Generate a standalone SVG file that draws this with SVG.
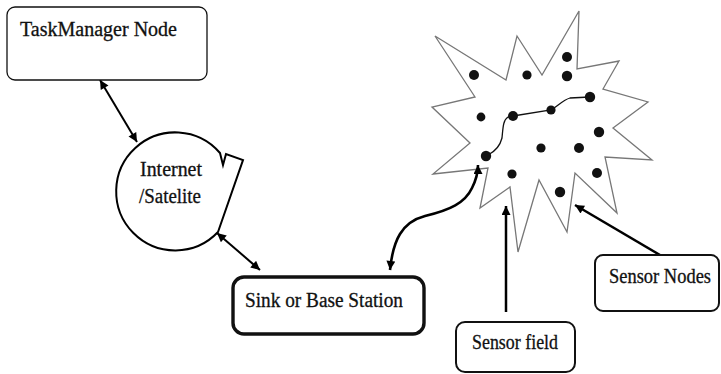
<svg xmlns="http://www.w3.org/2000/svg" width="721" height="374" viewBox="0 0 721 374">
<style>
  .lbl { font-family: 'Liberation Serif', 'Times New Roman', serif; font-size: 20px; fill: #111; stroke: #111; stroke-width: 0.3px; }
  .box { fill: #fff; stroke: #111; }
  .conn { fill: none; stroke: #000; }
  .dot { fill: #111; }
</style>
<defs>
  <marker id="ah" viewBox="0 0 10 10" refX="10" refY="5" markerWidth="11" markerHeight="9" markerUnits="userSpaceOnUse" orient="auto-start-reverse">
    <path d="M0,0 L10,5 L0,10 z" fill="#000"/>
  </marker>
</defs>
<rect width="721" height="374" fill="#fff"/>

<g id="sensor-field-shape">
  <polygon points="518,252 539,180 567,232 575,173 617,213 605,157 652,160 613,128 648,102 603,89 619,61 577,69 579,11 542,75 517,36 506,80 435,36 475,97 432,107 470,143 433,174 488,168 480,208 510,187" fill="#fff" stroke="#777" stroke-width="1.3" stroke-linejoin="miter"/>
  <path d="M488,155 C494,152 500,146 502,138 C503,128 503,120 508,117 L513,116 L551,110 C558,106 563,100 570,98 L590,97" fill="none" stroke="#111" stroke-width="1.3"/>
  <circle class="dot" cx="474" cy="75" r="5"/>
  <circle class="dot" cx="527" cy="75" r="4.6"/>
  <circle class="dot" cx="567" cy="57" r="5"/>
  <circle class="dot" cx="567" cy="76" r="5.2"/>
  <circle class="dot" cx="590" cy="97" r="5.2"/>
  <circle class="dot" cx="551" cy="110" r="4.6"/>
  <circle class="dot" cx="513" cy="116" r="5"/>
  <circle class="dot" cx="481" cy="117" r="4.4"/>
  <circle class="dot" cx="599" cy="132" r="5.2"/>
  <circle class="dot" cx="541" cy="148" r="4.6"/>
  <circle class="dot" cx="579" cy="148" r="5"/>
  <circle class="dot" cx="486" cy="156" r="5.2"/>
  <circle class="dot" cx="512" cy="174" r="4.6"/>
  <circle class="dot" cx="597" cy="173" r="5"/>
  <circle class="dot" cx="560" cy="192" r="5.2"/>
</g>

<g id="connectors">
  <line class="conn" x1="100" y1="80" x2="137" y2="142" stroke-width="2" marker-start="url(#ah)" marker-end="url(#ah)"/>
  <line class="conn" x1="217" y1="233" x2="260" y2="270" stroke-width="2" marker-start="url(#ah)" marker-end="url(#ah)"/>
  <path class="conn" d="M390,270 C393,240 402,222 425,216 C450,210 465,203 472,188 C476,180 478,172 478,165" stroke-width="2.6" marker-start="url(#ah)" marker-end="url(#ah)"/>
  <line class="conn" x1="506" y1="312" x2="506" y2="206" stroke-width="2.5" marker-end="url(#ah)"/>
  <line class="conn" x1="660" y1="255" x2="575" y2="205" stroke-width="2.5" marker-end="url(#ah)"/>
</g>

<g id="task-manager">
  <rect class="box" x="7" y="7" width="200" height="73" rx="8" stroke="#333" stroke-width="1.3"/>
  <text class="lbl" x="20" y="36" textLength="157" lengthAdjust="spacingAndGlyphs">TaskManager Node</text>
</g>

<g id="internet">
  <path d="M218,232 A59,59 0 1 1 220,153 L223,165 L226,154 L243,160 Z" fill="#fff" stroke="#000" stroke-width="2" stroke-linejoin="miter"/>
  <text class="lbl" x="140" y="176" textLength="62" lengthAdjust="spacingAndGlyphs">Internet</text>
  <text class="lbl" x="139" y="203" textLength="62" lengthAdjust="spacingAndGlyphs">/Satelite</text>
</g>

<g id="sink">
  <rect class="box" x="233" y="277" width="191" height="57" rx="11" stroke-width="3.4"/>
  <text class="lbl" x="245" y="307" textLength="158" lengthAdjust="spacingAndGlyphs">Sink or Base Station</text>
</g>

<g id="sensor-nodes">
  <rect class="box" x="595" y="255" width="124" height="56" rx="8" stroke-width="2"/>
  <text class="lbl" x="609" y="283" textLength="102" lengthAdjust="spacingAndGlyphs">Sensor Nodes</text>
</g>

<g id="sensor-field">
  <rect class="box" x="456" y="322" width="119" height="50" rx="9" stroke-width="2"/>
  <text class="lbl" x="472" y="349" textLength="86" lengthAdjust="spacingAndGlyphs">Sensor field</text>
</g>
</svg>
